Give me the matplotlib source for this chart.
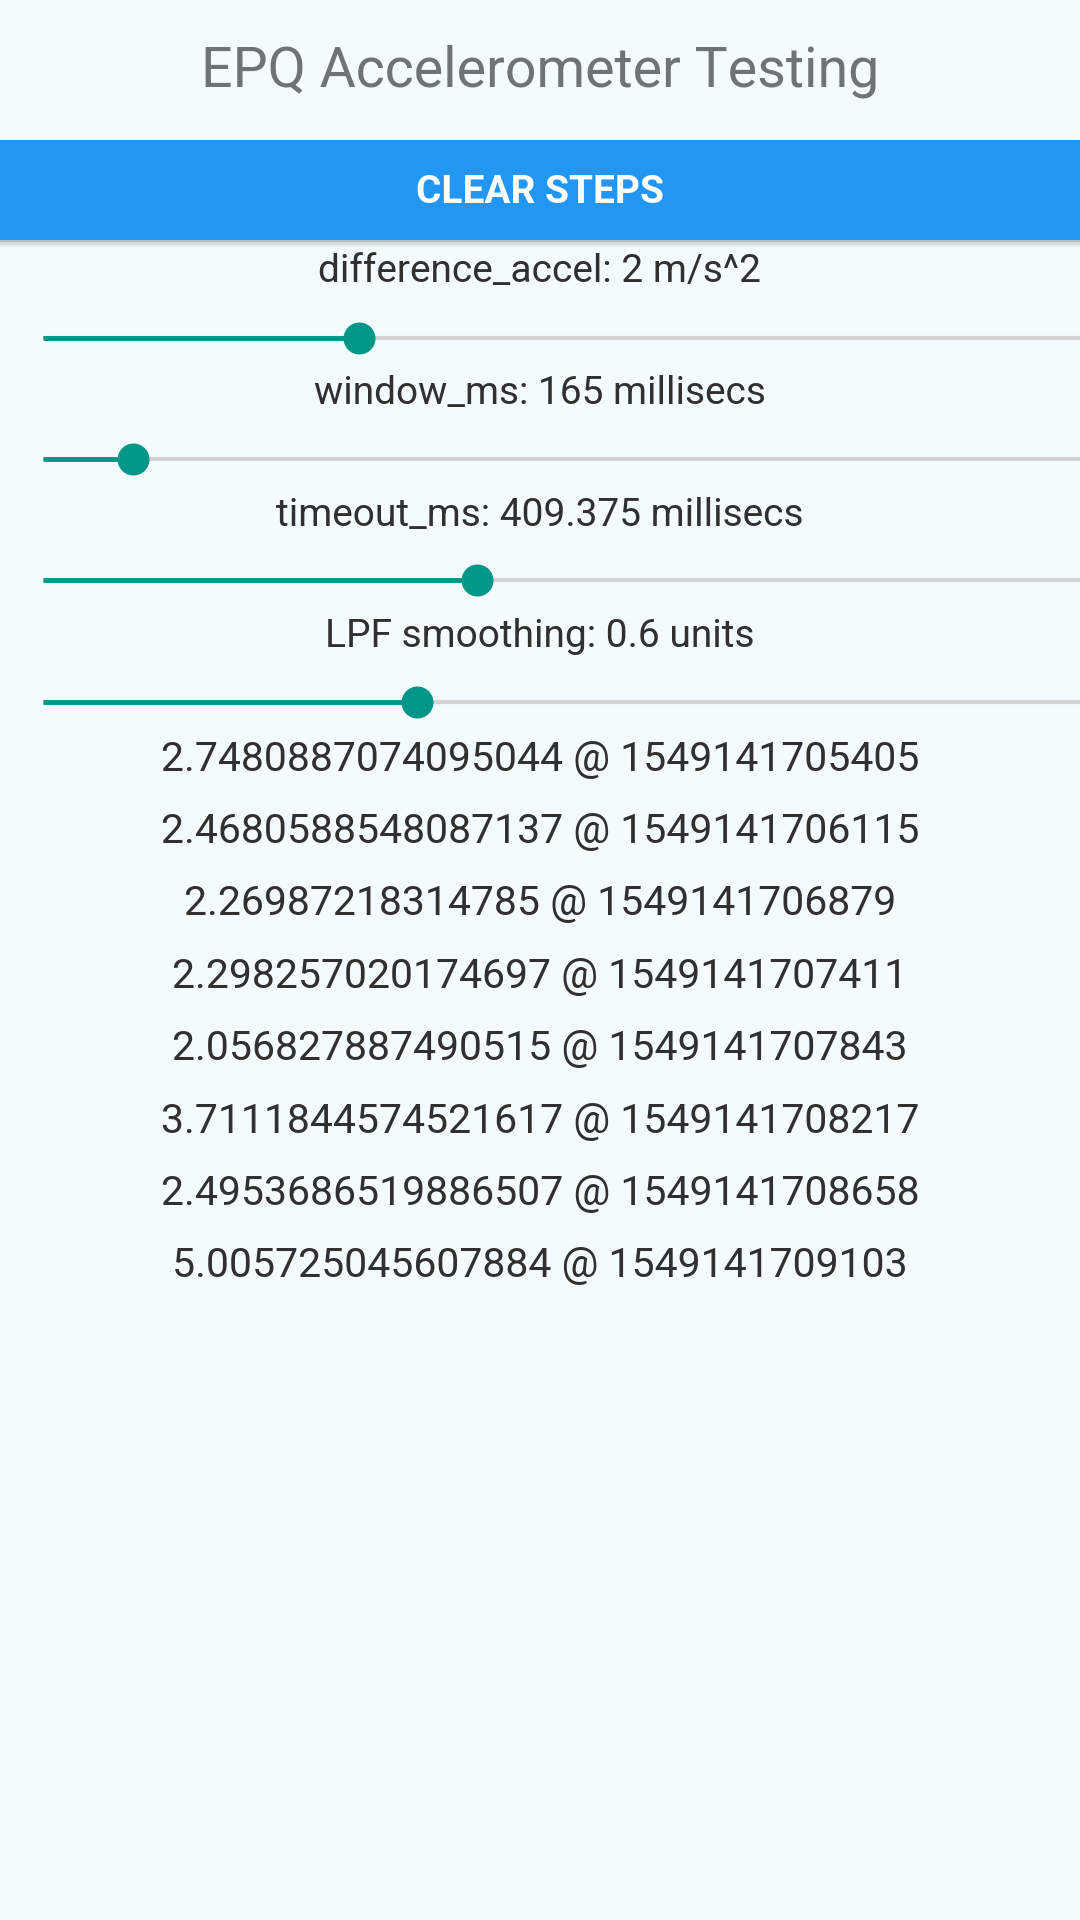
import matplotlib
matplotlib.use("Agg")
import matplotlib.pyplot as plt
from matplotlib.patches import FancyBboxPatch, Rectangle

plt.rcParams["font.family"] = ["Roboto", "DejaVu Sans"]

# data
title = "EPQ Accelerometer Testing"
button_label = "CLEAR STEPS"
slider_labels = [
    "difference_accel: 2 m/s^2",
    "window_ms: 165 millisecs",
    "timeout_ms: 409.375 millisecs",
    "LPF smoothing: 0.6 units",
]
slider_fraction = [0.305, 0.087, 0.419, 0.361]
step_values = [
    "2.7480887074095044", "2.4680588548087137", "2.26987218314785",
    "2.298257020174697", "2.056827887490515", "3.7111844574521617",
    "2.4953686519886507", "5.005725045607884",
]
step_times = [
    "1549141705405", "1549141706115", "1549141706879", "1549141707411",
    "1549141707843", "1549141708217", "1549141708658", "1549141709103",
]

W, H = 882, 1568
BG = "#F4FBFF"
TEAL = "#009688"

fig = plt.figure(figsize=(10.8, 19.2), dpi=100, facecolor=BG)
ax = fig.add_axes([0, 0, 1, 1])
ax.set_xlim(0, W)
ax.set_ylim(H, 0)
ax.axis("off")
ax.set_facecolor(BG)

ax.text(W / 2, 58, title, ha="center", va="center", fontsize=40, color="#6E7378")

# button with soft shadow
for i, a in enumerate([0.05, 0.08, 0.12]):
    ax.add_patch(Rectangle((0, 114 + 2 * (3 - i)), W, 82, color="black", alpha=a, lw=0))
ax.add_patch(Rectangle((0, 114), W, 82, color="#2196F3", lw=0))
ax.text(W / 2, 157, button_label, ha="center", va="center", fontsize=28,
        fontweight="bold", color="white")

x0, x1 = 35, W
for i, (lab, frac) in enumerate(zip(slider_labels, slider_fraction)):
    ly = 222 + i * 99.3
    sy = 276 + i * 99
    ax.text(W / 2, ly, lab, ha="center", va="center", fontsize=28, color="#303030")
    xt = x0 + frac * (x1 - x0)
    ax.plot([x0, x1], [sy, sy], color="#D3D3D3", lw=3, solid_capstyle="butt")
    ax.plot([x0, xt], [sy, sy], color=TEAL, lw=3.5, solid_capstyle="butt")
    ax.plot([xt], [sy], "o", color=TEAL, ms=22)

for i, (v, t) in enumerate(zip(step_values, step_times)):
    ax.text(W / 2, 620 + i * 59.1, f"{v} @ {t}", ha="center", va="center",
            fontsize=29.5, color="#303030")

fig.savefig("out.png", dpi=100, facecolor=BG)
